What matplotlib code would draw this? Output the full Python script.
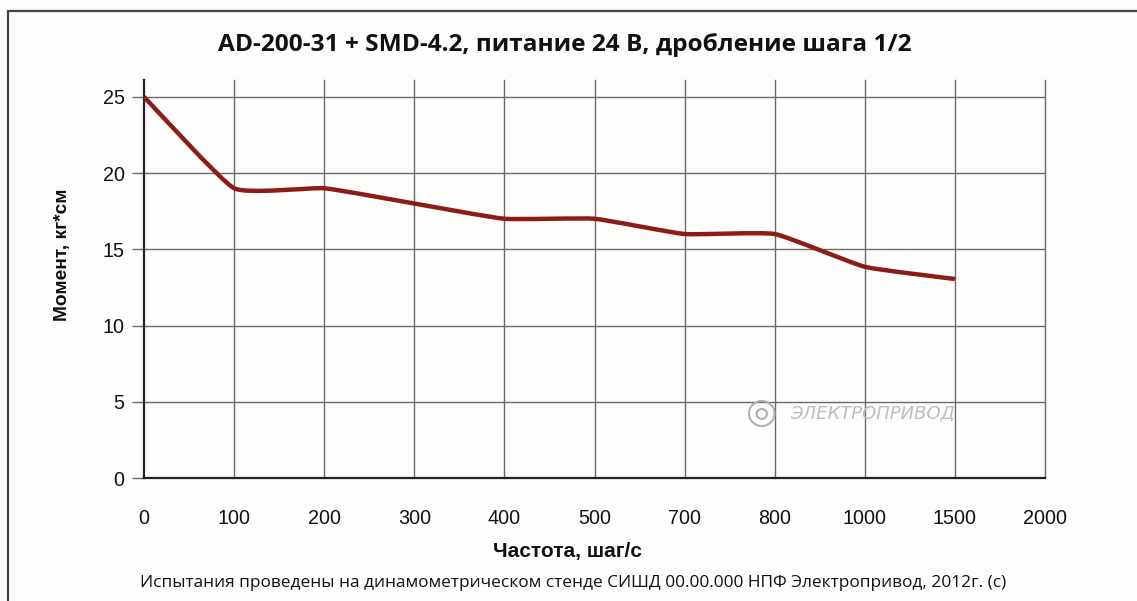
import numpy as np
import matplotlib
matplotlib.use("Agg")
import matplotlib.pyplot as plt
from matplotlib.path import Path
from matplotlib.patches import PathPatch, Rectangle

# данные с графика
freq_labels = ["0", "100", "200", "300", "400", "500", "700", "800", "1000", "1500", "2000"]
torque = [25, 19, 19, 18, 17, 17, 16, 16, 13.85, 13.05]
y_ticks = [0, 5, 10, 15, 20, 25]

title = "AD-200-31 + SMD-4.2, питание 24 В, дробление шага 1/2"
xlab = "Частота, шаг/с"
ylab = "Момент, кг*см"
note = "Испытания проведены на динамометрическом стенде СИШД 00.00.000 НПФ Электропривод, 2012г. (с)"

W, H = 1137, 601
fig = plt.figure(figsize=(W / 100, H / 100), dpi=100)
fig.patch.set_facecolor("#fdfdfc")

# рамка вокруг всего рисунка
fig.patches.append(Rectangle((8 / W, -0.05), 1.1, 1 - 11 / H + 0.05, transform=fig.transFigure,
                             fill=False, edgecolor="#444444", lw=1.6))

ax = fig.add_axes([144 / W, 1 - 478 / H, (1045 - 144) / W, (478 - 80) / H])
ax.set_facecolor("#fdfdfc")

xpos = np.arange(len(freq_labels))
ax.set_xlim(0, len(freq_labels) - 1)
ax.set_ylim(0, 26.1)

# сетка
for xp in xpos[1:]:
    ax.axvline(xp, color="#6a6a6a", lw=1.0, zorder=1, clip_on=False)
for yv in y_ticks[1:]:
    ax.axhline(yv, color="#6a6a6a", lw=1.0, zorder=1)

for s in ["top", "right"]:
    ax.spines[s].set_visible(False)
for s in ["left", "bottom"]:
    ax.spines[s].set_color("#222222")
    ax.spines[s].set_linewidth(1.6)

ax.set_xticks(xpos)
ax.set_xticklabels(freq_labels)
ax.set_yticks(y_ticks)
ax.tick_params(axis="x", length=0, pad=22, labelsize=14.2, labelcolor="#111111")
ax.tick_params(axis="y", length=9, width=1.0, color="#6a6a6a", pad=5, labelsize=14.2, labelcolor="#111111")
for lbl in ax.get_xticklabels() + ax.get_yticklabels():
    lbl.set_family("Liberation Sans")

# слегка сглаженная кривая через точки данных
k = 0.07
px = xpos[:len(torque)].astype(float)
py = np.array(torque, dtype=float)
verts = [(px[0], py[0])]
codes = [Path.MOVETO]
n = len(px)
for i in range(n - 1):
    p0 = np.array([px[max(i - 1, 0)], py[max(i - 1, 0)]])
    p1 = np.array([px[i], py[i]])
    p2 = np.array([px[i + 1], py[i + 1]])
    p3 = np.array([px[min(i + 2, n - 1)], py[min(i + 2, n - 1)]])
    c1 = p1 + (p2 - p0) * k
    c2 = p2 - (p3 - p1) * k
    verts += [tuple(c1), tuple(c2), tuple(p2)]
    codes += [Path.CURVE4] * 3
ax.add_patch(PathPatch(Path(verts, codes), facecolor="none", edgecolor="#8b1c17", lw=3.2,
                       capstyle="butt", joinstyle="round", zorder=3))

# водяной знак
fig.text(762 / W, 1 - 413 / H, "◎", fontsize=26, color="#b0b0b0", ha="center", va="center")
fig.text(790 / W, 1 - 413 / H, "ЭЛЕКТРОПРИВОД", fontsize=13, color="#bdbdbd", style="italic",
         family="DejaVu Sans", ha="left", va="center")

fig.text(565 / W, 1 - 45 / H, title, fontsize=17.6, fontweight="bold", family="Open Sans",
         ha="center", va="center", color="#111111")
fig.text(567 / W, 1 - 551 / H, xlab, fontsize=15, fontweight="bold", family="Liberation Sans",
         ha="center", va="center", color="#111111")
fig.text(63 / W, 1 - 255 / H, ylab, fontsize=13.8, fontweight="bold", family="Liberation Sans",
         rotation=90, ha="center", va="center", color="#111111")
fig.text(573 / W, 1 - 583 / H, note, fontsize=12.4, family="Open Sans",
         ha="center", va="center", color="#111111")

fig.savefig("out.png", dpi=100, facecolor=fig.get_facecolor())
